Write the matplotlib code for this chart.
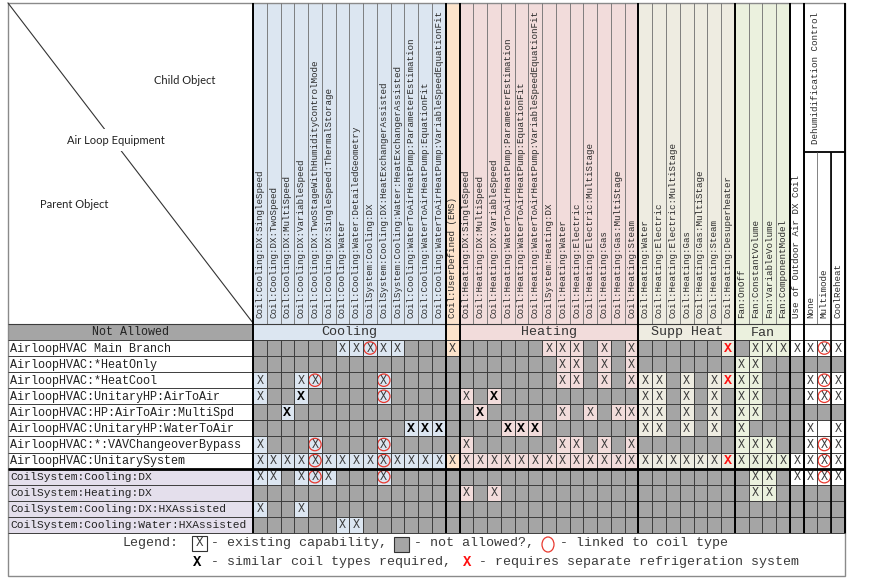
import matplotlib
matplotlib.use("Agg")
import matplotlib.pyplot as plt
from matplotlib.patches import Rectangle, Circle, Ellipse

# ---- data --------------------------------------------------------------
row_labels = [
    "AirloopHVAC Main Branch",
    "AirloopHVAC:*HeatOnly",
    "AirloopHVAC:*HeatCool",
    "AirloopHVAC:UnitaryHP:AirToAir",
    "AirloopHVAC:HP:AirToAir:MultiSpd",
    "AirloopHVAC:UnitaryHP:WaterToAir",
    "AirloopHVAC:*:VAVChangeoverBypass",
    "AirloopHVAC:UnitarySystem",
    "CoilSystem:Cooling:DX",
    "CoilSystem:Heating:DX",
    "CoilSystem:Cooling:DX:HXAssisted",
    "CoilSystem:Cooling:Water:HXAssisted",
]
coilsystem_rows = [8, 9, 10, 11]

cooling_cols = [
    "Coil:Cooling:DX:SingleSpeed",
    "Coil:Cooling:DX:TwoSpeed",
    "Coil:Cooling:DX:MultiSpeed",
    "Coil:Cooling:DX:VariableSpeed",
    "Coil:Cooling:DX:TwoStageWithHumidityControlMode",
    "Coil:Cooling:DX:SingleSpeed:ThermalStorage",
    "Coil:Cooling:Water",
    "Coil:Cooling:Water:DetailedGeometry",
    "CoilSystem:Cooling:DX",
    "CoilSystem:Cooling:DX:HeatExchangerAssisted",
    "CoilSystem:Cooling:Water:HeatExchangerAssisted",
    "Coil:Cooling:WaterToAirHeatPump:ParameterEstimation",
    "Coil:Cooling:WaterToAirHeatPump:EquationFit",
    "Coil:Cooling:WaterToAirHeatPump:VariableSpeedEquationFit",
]
user_cols = ["Coil:UserDefined (EMS)"]
heating_cols = [
    "Coil:Heating:DX:SingleSpeed",
    "Coil:Heating:DX:MultiSpeed",
    "Coil:Heating:DX:VariableSpeed",
    "Coil:Heating:WaterToAirHeatPump:ParameterEstimation",
    "Coil:Heating:WaterToAirHeatPump:EquationFit",
    "Coil:Heating:WaterToAirHeatPump:VariableSpeedEquationFit",
    "CoilSystem:Heating:DX",
    "Coil:Heating:Water",
    "Coil:Heating:Electric",
    "Coil:Heating:Electric:MultiStage",
    "Coil:Heating:Gas",
    "Coil:Heating:Gas:MultiStage",
    "Coil:Heating:Steam",
]
supp_cols = [
    "Coil:Heating:Water",
    "Coil:Heating:Electric",
    "Coil:Heating:Electric:MultiStage",
    "Coil:Heating:Gas",
    "Coil:Heating:Gas:MultiStage",
    "Coil:Heating:Steam",
    "Coil:Heating:Desuperheater",
]
fan_cols = [
    "Fan:OnOff",
    "Fan:ConstantVolume",
    "Fan:VariableVolume",
    "Fan:ComponentModel",
]
oa_cols = ["Use of Outdoor Air DX Coil"]
dehum_cols = ["None", "Multimode", "CoolReheat"]
dehum_title = "Dehumidification Control"

# cell codes: . not allowed, x existing, o linked (circled), B similar coil
# types required, R separate refrigeration system, _ allowed but empty
cooling_cells = [
    "......xxoxx...",
    "..............",
    "x..xo....o....",
    "x..B.....o....",
    "..B...........",
    "...........BBB",
    "x...o....o....",
    "xxxxoxxxxoxxxx",
    "xx.xox...o....",
    "..............",
    "x..x..........",
    "......xx......",
]
user_cells = ["x", ".", ".", ".", ".", ".", ".", "x", ".", ".", ".", "."]
heating_cells = [
    "......xxx.x.x",
    ".......xx.x.x",
    ".......xx.x.x",
    "x.B..........",
    ".B.....x.x.xx",
    "...BBB.......",
    "x......xx.x.x",
    "xxxxxxxxxxxxx",
    ".............",
    "x.x..........",
    ".............",
    ".............",
]
supp_cells = [
    "......R",
    ".......",
    "xx.x.xR",
    "xx.x.x.",
    "xx.x.x.",
    "xx.x.x.",
    ".......",
    "xxxxxxR",
    ".......",
    ".......",
    ".......",
    ".......",
]
fan_cells = [
    ".xxx", "xx..", "xx..", "xx..", "xx..", "x...",
    "xxx.", "xxxx", ".xx.", ".xx.", "....", "....",
]
oa_cells = ["x", ".", ".", ".", ".", ".", ".", "x", "x", ".", ".", "."]
dehum_cells = [
    "xox", "...", "xox", "xox", "...", "x_x",
    "xox", "xox", "xox", "...", "...", "...",
]

# ---- style / layout ----------------------------------------------------
MONO = "Liberation Mono"
GREY = "#a5a5a5"
LINE = "#3c3c3c"
groups = [
    ("Cooling", cooling_cols, cooling_cells, "#dce6f1"),
    ("", user_cols, user_cells, "#fde4cc"),
    ("Heating", heating_cols, heating_cells, "#f2dcdb"),
    ("Supp Heat", supp_cols, supp_cells, "#eeece1"),
    ("Fan", fan_cols, fan_cells, "#ebf1de"),
    ("", oa_cols, oa_cells, "white"),
    ("", dehum_cols, dehum_cells, "white"),
]

LEFT, TOP, RIGHT, BOTTOM = 8, 3, 845, 576
GRID_X0 = 253
HEAD_Y = 324
ROW_Y0 = 340
ROW_H = 16.08
DEHUM_SPLIT = 152
n_cols = sum(len(g[1]) for g in groups)
COL_W = (RIGHT - GRID_X0) / n_cols
GRID_Y1 = ROW_Y0 + ROW_H * len(row_labels)

fig = plt.figure(figsize=(8.76, 5.8), dpi=100)
ax = fig.add_axes([0, 0, 1, 1])
ax.set_xlim(0, 876)
ax.set_ylim(580, 0)
ax.axis("off")

# upper-left corner
ax.plot([LEFT, GRID_X0], [TOP, HEAD_Y - 1], color="#333333", lw=0.8)
corner_font = dict(family="Lato", fontsize=8, color="#222222", ha="center", va="center")
ax.text(185, 80, "Child Object", **corner_font)
ax.text(116, 140, "Air Loop Equipment",
        bbox=dict(facecolor="white", edgecolor="none", pad=4), **corner_font)
ax.text(74, 204, "Parent Object", **corner_font)

# "Not Allowed" header cell
ax.add_patch(Rectangle((LEFT, HEAD_Y), GRID_X0 - LEFT, ROW_Y0 - HEAD_Y, facecolor=GREY, edgecolor="none"))
ax.text((LEFT + GRID_X0) / 2, (HEAD_Y + ROW_Y0) / 2, "Not Allowed", family=MONO,
        fontsize=8.4, color="#222222", ha="center", va="center")

# row labels
for i, lab in enumerate(row_labels):
    y = ROW_Y0 + i * ROW_H
    fc = "#e4dfec" if i in coilsystem_rows else "white"
    ax.add_patch(Rectangle((LEFT, y), GRID_X0 - LEFT, ROW_H, facecolor=fc, edgecolor="none"))
    fs = 8.1 if i in coilsystem_rows else 8.45
    ax.text(LEFT + 2, y + ROW_H / 2 + 0.5, lab, family=MONO, fontsize=fs,
            color="#222222", ha="left", va="center")

# columns, headers and cells
col = 0
bounds = [0]
for gname, cols, cells, color in groups:
    gx0 = GRID_X0 + col * COL_W
    gx1 = gx0 + len(cols) * COL_W
    ax.add_patch(Rectangle((gx0, HEAD_Y), gx1 - gx0, ROW_Y0 - HEAD_Y, facecolor=color, edgecolor="none"))
    if gname:
        ax.text((gx0 + gx1) / 2, (HEAD_Y + ROW_Y0) / 2 + 0.5, gname, family=MONO,
                fontsize=9.6, color="#333333", ha="center", va="center")
    for j, cname in enumerate(cols):
        x = GRID_X0 + (col + j) * COL_W
        ax.add_patch(Rectangle((x, TOP), COL_W, HEAD_Y - TOP, facecolor=color, edgecolor="none"))
        ax.text(x + COL_W / 2, HEAD_Y - 6, cname, rotation=90, family=MONO, fontsize=6.6,
                color="#2a2a2a", ha="center", va="bottom")
        for i, row in enumerate(cells):
            code = row[j]
            y = ROW_Y0 + i * ROW_H
            cx, cy = x + COL_W / 2, y + ROW_H / 2
            fc = GREY if code == "." else color
            ax.add_patch(Rectangle((x, y), COL_W, ROW_H, facecolor=fc, edgecolor="none"))
            if code in "xo":
                ax.text(cx, cy + 0.5, "X", family=MONO, fontsize=8.5, color="#3a3a3a",
                        ha="center", va="center")
            if code == "o":
                ax.add_patch(Circle((cx, cy), 6.2, facecolor="none", edgecolor="#e8392f", lw=0.9))
            if code == "B":
                ax.text(cx, cy + 0.5, "X", family=MONO, fontsize=9.5, weight="bold",
                        color="black", ha="center", va="center")
            if code == "R":
                ax.text(cx, cy + 0.5, "X", family=MONO, fontsize=9.5, weight="bold",
                        color="#ff1010", ha="center", va="center")
    col += len(cols)
    bounds.append(col)

# dehumidification header (merged cell above the three sub-columns)
dx0 = GRID_X0 + bounds[-2] * COL_W
ax.add_patch(Rectangle((dx0, TOP), RIGHT - dx0, DEHUM_SPLIT - TOP, facecolor="white", edgecolor="none"))
ax.text(dx0 + 12, (TOP + DEHUM_SPLIT) / 2, dehum_title, rotation=90, family=MONO,
        fontsize=6.6, color="#2a2a2a", ha="center", va="center")
ax.hlines(DEHUM_SPLIT, dx0, RIGHT, color="black", lw=1.3)

# grid lines
for k in range(n_cols + 1):
    x = GRID_X0 + k * COL_W
    ytop = DEHUM_SPLIT if x > dx0 + 1 else TOP
    ax.vlines(x, ytop, HEAD_Y, color="#6e6e6e", lw=0.6)
    ax.vlines(x, ROW_Y0, GRID_Y1, color=LINE, lw=0.7)
for i in range(len(row_labels) + 1):
    ax.hlines(ROW_Y0 + i * ROW_H, LEFT, RIGHT, color=LINE, lw=0.7)
ax.hlines(HEAD_Y, LEFT, RIGHT, color=LINE, lw=0.8)
ax.hlines(ROW_Y0 + coilsystem_rows[0] * ROW_H, LEFT, RIGHT, color="black", lw=2.0)
for b in bounds:
    ax.vlines(GRID_X0 + b * COL_W, TOP, GRID_Y1, color="black", lw=1.4)
ax.vlines(GRID_X0 + (bounds[-2] + 2) * COL_W, DEHUM_SPLIT, GRID_Y1, color="black", lw=1.2)
ax.add_patch(Rectangle((LEFT, TOP), RIGHT - LEFT, BOTTOM - TOP, facecolor="none",
                       edgecolor="#8a8a8a", lw=1.0))

# legend
leg = dict(family=MONO, fontsize=9.6, color="#3a3a3a", va="center", ha="left")
y1, y2 = 543, 562
ax.text(122, y1, "Legend:", **leg)
ax.add_patch(Rectangle((192, y1 - 7.5), 15, 15, facecolor="white", edgecolor="#333333", lw=0.8))
ax.text(199.5, y1 + 0.5, "X", family=MONO, fontsize=9, color="#3a3a3a", ha="center", va="center")
ax.text(211, y1, "- existing capability,", **leg)
ax.add_patch(Rectangle((394, y1 - 6), 15, 15, facecolor=GREY, edgecolor="#333333", lw=0.8))
ax.text(414, y1, "- not allowed?,", **leg)
ax.add_patch(Ellipse((548, y1 + 1.5), 12, 15, facecolor="none", edgecolor="#e8392f", lw=0.9))
ax.text(560, y1, "- linked to coil type", **leg)
ax.text(193, y2, "X", family=MONO, fontsize=10, weight="bold", color="black", ha="left", va="center")
ax.text(211, y2, "- similar coil types required,", **leg)
ax.text(463, y2, "X", family=MONO, fontsize=10, weight="bold", color="#ff1010", ha="left", va="center")
ax.text(479, y2, "- requires separate refrigeration system", **leg)

fig.savefig("out.png", dpi=100)
